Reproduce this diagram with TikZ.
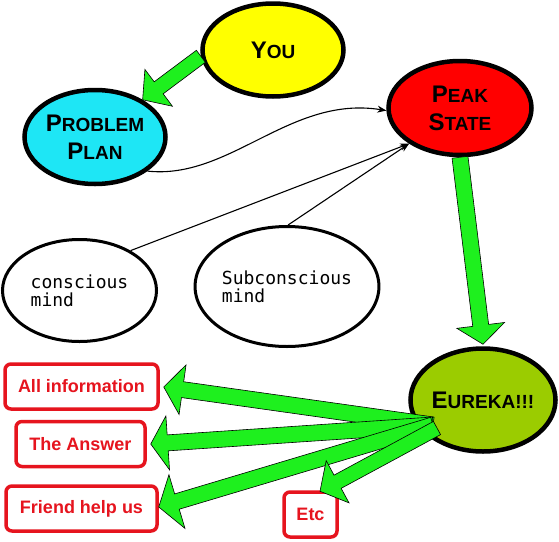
\documentclass[tikz,border=0pt]{standalone}
\usepackage{fontspec}
\setmainfont{Liberation Sans}
\newfontfamily\monof{DejaVu Sans Mono}
\usetikzlibrary{shapes.geometric,calc,arrows.meta}
\definecolor{cyanfill}{RGB}{30,230,245}
\definecolor{yellowfill}{RGB}{255,255,0}
\definecolor{redfill}{RGB}{255,0,0}
\definecolor{olivefill}{RGB}{155,204,0}
\definecolor{arrgreen}{RGB}{30,240,30}
\definecolor{boxred}{RGB}{230,20,30}
\newcommand\capsc[2]{{\fontsize{24}{28}\selectfont #1}{\fontsize{19}{28}\selectfont #2}}
\newcommand\blockarrow[5]{%
  \coordinate (bah) at ($(#2)!#5!(#1)$);
  \draw[garrow] ($(#1)!#3!90:(#2)$) -- ($(bah)!#3!90:(#2)$) -- ($(bah)!#4!90:(#2)$) -- (#2)
    -- ($(bah)!#4!-90:(#2)$) -- ($(bah)!#3!-90:(#2)$) -- ($(#1)!#3!-90:(#2)$) -- cycle;}
\begin{document}
\begin{tikzpicture}[x=1pt,y=-1pt,
  ell/.style={ellipse, draw=black, line width=4.5pt, inner sep=0pt, align=center,
    font=\bfseries\fontsize{24}{28}\selectfont},
  well/.style={ellipse, draw=black, line width=3pt, inner sep=0pt, align=left, fill=white,
    font=\monof\fontsize{18}{18}\selectfont},
  rbox/.style={rectangle, draw=boxred, line width=3.5pt, rounded corners=6pt, fill=white,
    text=boxred, inner sep=0pt, minimum height=45pt, font=\bfseries\fontsize{18}{18}\selectfont},
  garrow/.style={draw=black, line width=0.6pt, fill=arrgreen, line join=miter},
  thinarr/.style={draw=black, line width=1.1pt, -{Stealth[length=9pt,width=7pt]}}]
\useasboundingbox (0,0) rectangle (559,541);
\fill[white] (0,0) rectangle (559,541);

% ellipses
\node[ell, fill=yellowfill, minimum width=141pt, minimum height=93pt] (you) at (273,50) {\capsc{Y}{OU}};
\node[ell, fill=cyanfill, minimum width=141pt, minimum height=94pt] (pp) at (95,137) {\capsc{P}{ROBLEM}\\\capsc{P}{LAN}};
\node[ell, fill=redfill, minimum width=143pt, minimum height=94pt] (ps) at (460,108) {\capsc{P}{EAK}\\\capsc{S}{TATE}};
\node[ell, fill=olivefill, minimum width=141pt, minimum height=103pt] (eu) at (483,400) {\capsc{E}{UREKA!!!}};
\node[well, minimum width=154pt, minimum height=102pt] (cm) at (79.5,290.5) {conscious\\mind};
\node[well, minimum width=181pt, minimum height=120pt] (sm) at (287,286.5) {Subconscious\\mind};

% red boxes
\node[rbox, minimum width=153pt] (ai) at (81.5,386.5) {All information};
\node[rbox, minimum width=129pt] (ta) at (80.5,444) {The Answer};
\node[rbox, minimum width=151pt] (fh) at (81.5,508.5) {Friend help us};
\node[rbox, minimum width=53pt] (etc) at (310.5,514.5) {Etc};

% thin connectors
\draw[thinarr] (pp.-33) .. controls (230,180) and (290,95) .. (ps.182);
\draw[thinarr] (cm.38) -- (ps.215);
\draw[thinarr] (sm.89) -- (ps.215);

% green block arrows
\coordinate (ys) at (you.185);
\coordinate (pt) at (pp.38);
\blockarrow{ys}{pt}{7.5pt}{23pt}{20pt}
\coordinate (pss) at (ps.south);
\coordinate (eun) at ($(eu.north)+(0,-2)$);
\blockarrow{pss}{eun}{8pt}{24pt}{19pt}

\coordinate (eo) at ($(eu.center)+(-50,25)$);
\coordinate (eo2) at ($(eu.center)+(-46,28)$);
\coordinate (t1) at ($(ai.east)+(4,0.5)$);
\coordinate (t2) at ($(ta.east)+(4,0)$);
\coordinate (t3) at ($(fh.east)+(0,-1.5)$);
\coordinate (t4) at ($(etc.north)+(9.5,1)$);
\blockarrow{eo}{t1}{8pt}{25pt}{19pt}
\blockarrow{eo}{t2}{8pt}{27pt}{17pt}
\blockarrow{eo}{t3}{8pt}{28pt}{19pt}
\blockarrow{eo2}{t4}{7.5pt}{24pt}{20pt}
\end{tikzpicture}
\end{document}
